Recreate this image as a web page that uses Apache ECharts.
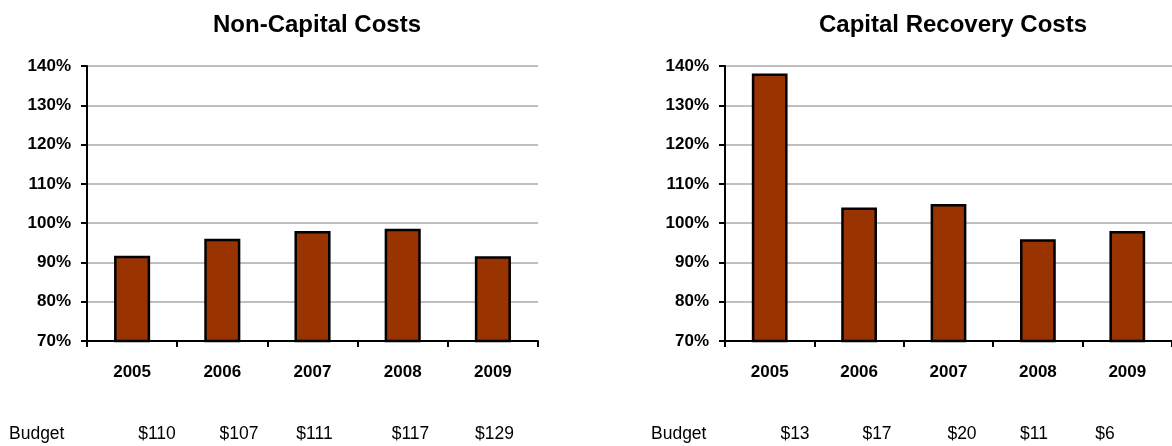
<!DOCTYPE html>
<html>
<head>
<meta charset="utf-8">
<script src="https://cdn.jsdelivr.net/npm/echarts@6/dist/echarts.min.js"></script>
<style>
html,body{margin:0;padding:0;background:#fff;}
#c{width:1172px;height:446px;}
</style>
</head>
<body>
<div id="c"></div>
<script>
var years = ['2005', '2006', '2007', '2008', '2009'];
var nonCapitalPct = [91.7, 96.0, 98.0, 98.6, 91.6];
var capitalRecoveryPct = [138.1, 104.0, 104.9, 95.9, 98.0];
var nonCapitalBudget = ['$110', '$107', '$111', '$117', '$129'];
var capitalBudget = ['$13', '$17', '$20', '$11', '$6'];
var budgetLabel = 'Budget';
var titles = ['Non-Capital Costs', 'Capital Recovery Costs'];

// layout (positions of the free-standing budget text row)
var leftBudgetX = [157, 239, 314.5, 410.5, 494.5];
var rightBudgetX = [795, 877, 962, 1034, 1105];

var FONT = '"Liberation Sans", Arial, sans-serif';
var chart = echarts.init(document.getElementById('c'), null, {renderer: 'canvas'});

function yAxis(idx) {
  return {
    type: 'value', gridIndex: idx, min: 70, max: 140, interval: 10,
    axisLine: {show: true, lineStyle: {color: '#000', width: 2}},
    axisTick: {show: true, length: 6, lineStyle: {color: '#000', width: 2}},
    axisLabel: {formatter: '{value}%', color: '#000', fontFamily: FONT, fontWeight: 'bold', fontSize: 17, margin: 16},
    splitLine: {show: true, lineStyle: {color: '#bfbfbf', width: 2}}
  };
}
function xAxis(idx) {
  return {
    type: 'category', gridIndex: idx, data: years, boundaryGap: true,
    axisLine: {show: true, onZero: false, lineStyle: {color: '#000', width: 2}},
    axisTick: {show: true, length: 6, lineStyle: {color: '#000', width: 2}},
    axisLabel: {color: '#000', fontFamily: FONT, fontWeight: 'bold', fontSize: 17, margin: 23}
  };
}
function barSeries(idx, data) {
  return {
    type: 'bar', xAxisIndex: idx, yAxisIndex: idx, data: data, barWidth: '40%',
    itemStyle: {color: '#993300', borderColor: '#000', borderWidth: 2.5},
    silent: true
  };
}

var graphics = [];
function budgetRow(labelX, xs, vals) {
  graphics.push({type: 'text', x: labelX, y: 425, style: {text: budgetLabel, font: '17.5px ' + FONT, fill: '#000', align: 'left', verticalAlign: 'top'}});
  for (var i = 0; i < vals.length; i++) {
    graphics.push({type: 'text', x: xs[i], y: 425, style: {text: vals[i], font: '17.5px ' + FONT, fill: '#000', align: 'center', verticalAlign: 'top'}});
  }
}
budgetRow(9, leftBudgetX, nonCapitalBudget);
budgetRow(651, rightBudgetX, capitalBudget);

chart.setOption({
  animation: false,
  title: [
    {text: titles[0], left: 312, top: 8, textAlign: 'center', textStyle: {fontFamily: FONT, fontWeight: 'bold', fontSize: 24, color: '#000'}},
    {text: titles[1], left: 948, top: 8, textAlign: 'center', textStyle: {fontFamily: FONT, fontWeight: 'bold', fontSize: 24, color: '#000'}}
  ],
  grid: [
    {left: 87, right: 634, top: 66, bottom: 105},
    {left: 725, right: -4, top: 66, bottom: 105}
  ],
  xAxis: [xAxis(0), xAxis(1)],
  yAxis: [yAxis(0), yAxis(1)],
  series: [barSeries(0, nonCapitalPct), barSeries(1, capitalRecoveryPct)],
  graphic: graphics
});
</script>
</body>
</html>
